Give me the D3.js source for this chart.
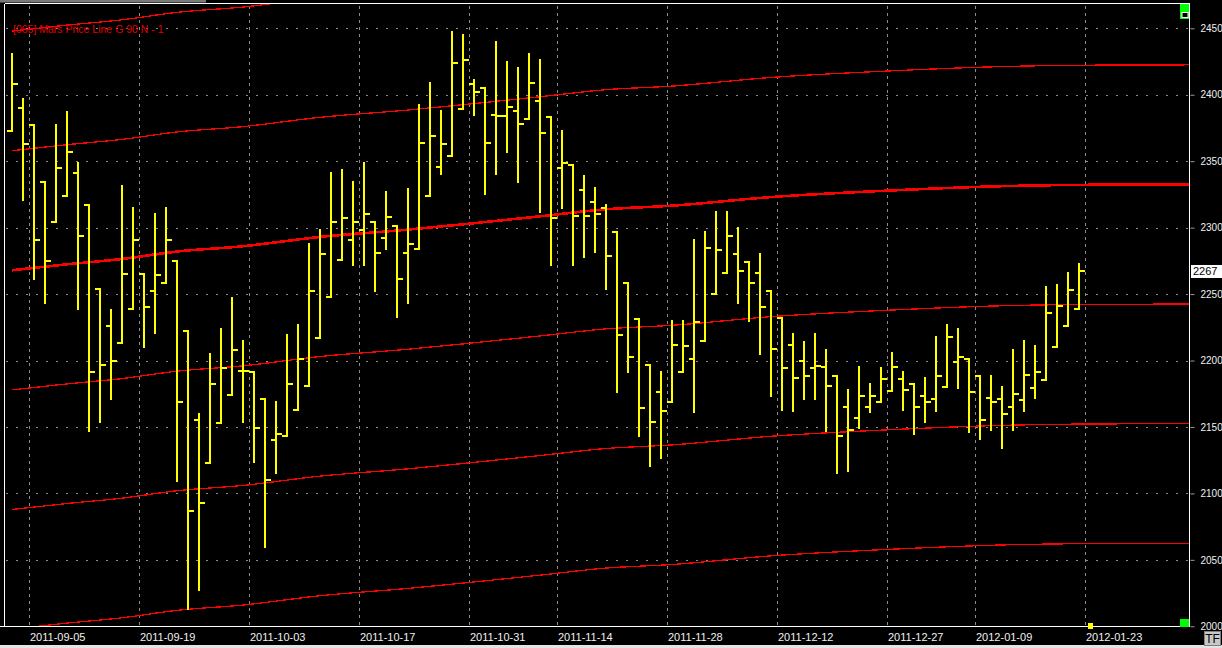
<!DOCTYPE html>
<html>
<head>
<meta charset="utf-8">
<script src="https://cdn.jsdelivr.net/npm/d3@7"></script>
<style>
  html, body { margin: 0; padding: 0; background: #000; }
  svg { display: block; }
</style>
</head>
<body>
<svg id="chart" width="1222" height="648"></svg>
<script>
// ---------------- DATA ----------------
// bar index 0..97 (trading days), tick labels at given bar indices
const tickIndex = [2, 12, 22, 32, 42, 50, 60, 70, 80, 88, 98];
const tickLabels = ["2011-09-05","2011-09-19","2011-10-03","2011-10-17","2011-10-31",
  "2011-11-14","2011-11-28","2011-12-12","2011-12-27","2012-01-09","2012-01-23"];
const priceTicks = [2000, 2050, 2100, 2150, 2200, 2250, 2300, 2350, 2400, 2450];

const openV = [2373,2390,2377,2334,2304,2324,2341,2317,2254,2226,2213,2239,2265,2252,2258,2275,2222,2155,2123,2153,
  2174,2192,2191,2171,2140,2143,2163,2181,2217,2248,2276,2291,2298,2304,2292,2301,2281,2284,2324,2346,
  2354,2389,2408,2405,2385,2384,2388,2382,2395,2383,2345,2347,2328,2319,2315,2297,2258,2231,2197,2176,
  2169,2191,2201,2215,2250,2266,2280,2274,2266,2252,2232,2212,2200,2194,2195,2188,2165,2157,2165,2169,
  2177,2186,2182,2173,2171,2180,2199,2201,2188,2172,2171,2165,2170,2179,2185,2210,2226,2239];
const highV = [2431,2397,2377,2334,2377,2387,2349,2317,2254,2238,2331,2315,2265,2310,2315,2275,2222,2160,2205,2224,
  2247,2215,2191,2171,2169,2219,2227,2288,2298,2341,2343,2334,2349,2304,2327,2301,2329,2392,2409,2388,
  2447,2445,2411,2405,2440,2425,2420,2431,2426,2383,2373,2347,2339,2330,2317,2297,2258,2231,2197,2191,
  2230,2230,2291,2297,2312,2312,2300,2274,2280,2252,2232,2220,2214,2220,2208,2188,2178,2195,2182,2194,
  2206,2191,2182,2187,2218,2227,2224,2201,2188,2188,2180,2208,2215,2211,2255,2257,2266,2273];
const lowV = [2373,2321,2261,2243,2304,2324,2239,2147,2154,2171,2213,2239,2210,2221,2258,2109,2013,2027,2123,2153,
  2174,2154,2124,2060,2115,2143,2163,2181,2217,2248,2276,2272,2272,2252,2284,2233,2243,2284,2324,2340,
  2354,2389,2385,2325,2340,2357,2334,2382,2312,2272,2315,2272,2278,2282,2254,2176,2191,2143,2121,2127,
  2169,2191,2161,2215,2250,2266,2243,2230,2205,2173,2163,2162,2171,2171,2147,2115,2117,2149,2161,2169,
  2177,2163,2145,2154,2162,2180,2179,2146,2141,2148,2134,2148,2162,2172,2185,2210,2226,2239];
const closeV = [2408,2363,2291,2275,2345,2357,2294,2191,2197,2200,2265,2291,2240,2264,2291,2169,2087,2093,2182,2194,
  2208,2192,2149,2110,2145,2182,2201,2252,2280,2304,2307,2304,2310,2281,2308,2261,2288,2364,2369,2363,
  2424,2426,2402,2364,2384,2391,2378,2409,2371,2307,2349,2309,2309,2310,2279,2219,2203,2164,2154,2162,
  2212,2211,2229,2285,2283,2294,2267,2258,2240,2209,2194,2187,2188,2196,2181,2143,2148,2173,2173,2186,
  2195,2178,2165,2169,2188,2218,2203,2176,2155,2169,2160,2175,2189,2191,2236,2241,2253,2267];

// Mars price lines (read at these bar indices)
const marsIdx = [0, 5, 10, 15, 21, 28, 36, 41, 48, 54, 60, 69, 80, 90, 99, 107];
const marsLineA = [2447.9,2452.4,2456.4,2462.0,2466.0,2473.0,2478.5,2482.5,2488.5,2493.8,2496.5,2503.0,2508.0,2511.2,2512.3,2512.5];
const marsLineB = [2357.9,2362.4,2366.4,2372.0,2376.0,2383.0,2388.5,2392.5,2398.5,2403.8,2406.5,2413.0,2418.0,2421.2,2422.3,2422.5];
const marsLineC = [2267.9,2272.4,2276.4,2282.0,2286.0,2293.0,2298.5,2302.5,2308.5,2313.8,2316.5,2323.0,2328.0,2331.2,2332.3,2332.5];
const marsLineD = [2177.9,2182.4,2186.4,2192.0,2196.0,2203.0,2208.5,2212.5,2218.5,2223.8,2226.5,2233.0,2238.0,2241.2,2242.3,2242.5];
const marsLineE = [2087.9,2092.4,2096.4,2102.0,2106.0,2113.0,2118.5,2122.5,2128.5,2133.8,2136.5,2143.0,2148.0,2151.2,2152.3,2152.5];
const marsLineF = [1997.9,2002.4,2006.4,2012.0,2016.0,2023.0,2028.5,2032.5,2038.5,2043.8,2046.5,2053.0,2058.0,2061.2,2062.3,2062.5];

const titleText = "[065] Mars Price Line G 90 N - 1";
const lastPriceText = "2267";

// ---------------- DRAW ----------------
const svg = d3.select("#chart");
const L = 4.5, R = 1189.5, T = 3.5, B = 626.5;
const nSlots = 108;

const x = d3.scaleBand().domain(d3.range(nSlots)).range([6.5, 6.5 + nSlots * 11]).padding(0);
const bw = x.bandwidth();
const cx = i => x(i) + bw / 2;
const y = d3.scaleLinear().domain([2000, 2450]).range([626.3, 28.3]);

svg.append("rect").attr("width", 1222).attr("height", 648).attr("fill", "#000");

svg.append("defs").append("clipPath").attr("id", "plotclip")
  .append("rect").attr("x", L).attr("y", T).attr("width", R - L).attr("height", B - T);

// grid
const grid = svg.append("g");
grid.selectAll("line.h").data(priceTicks).join("line")
  .attr("x1", L + 1).attr("x2", R - 1)
  .attr("y1", d => Math.round(y(d)) + 0.5).attr("y2", d => Math.round(y(d)) + 0.5)
  .attr("stroke", "#8a8a8a").attr("stroke-width", 1).attr("stroke-dasharray", "2,8")
  .attr("shape-rendering", "crispEdges");
grid.selectAll("line.v").data(tickIndex).join("line")
  .attr("x1", d => Math.round(x(d)) + 0.5).attr("x2", d => Math.round(x(d)) + 0.5)
  .attr("y1", T + 2).attr("y2", B)
  .attr("stroke", "#8a8a8a").attr("stroke-width", 1).attr("stroke-dasharray", "3,4")
  .attr("shape-rendering", "crispEdges");

// mars lines
const marsSeries = [
  {v: marsLineA, w: 1.3}, {v: marsLineB, w: 1.3}, {v: marsLineC, w: 2.6},
  {v: marsLineD, w: 1.3}, {v: marsLineE, w: 1.3}, {v: marsLineF, w: 1.3}
];
const lineGen = d3.line().x(d => d[0]).y(d => d[1]).curve(d3.curveMonotoneX);
const mg = svg.append("g").attr("clip-path", "url(#plotclip)");
marsSeries.forEach(s => {
  const pts = marsIdx.map((k, j) => [k === nSlots - 1 ? R : cx(k), y(s.v[j])]);
  mg.append("path").attr("d", lineGen(pts)).attr("fill", "none")
    .attr("stroke", "#ff0000").attr("stroke-width", s.w).attr("shape-rendering", "crispEdges");
});

// title
svg.append("text").attr("x", 13).attr("y", 33).text(titleText)
  .attr("fill", "#e00000").attr("font-family", "Liberation Sans, Arial, sans-serif")
  .attr("font-size", "10.5px");

// OHLC bars
const bars = openV.map((o, i) => ({i, o, h: highV[i], l: lowV[i], c: closeV[i]}));
const bg = svg.append("g").attr("fill", "#ffff00").attr("shape-rendering", "crispEdges");
bars.forEach(d => {
  const c = Math.round(cx(d.i));
  const yh = y(d.h), yl = y(d.l);
  bg.append("rect").attr("x", c - 1).attr("y", yh - 1).attr("width", 2).attr("height", Math.max(2, yl - yh + 2));
  bg.append("rect").attr("x", c - 5).attr("y", y(d.o) - 1).attr("width", 4).attr("height", 2);
  bg.append("rect").attr("x", c + 1).attr("y", y(d.c) - 1).attr("width", 5).attr("height", 2);
});

// frame
const frame = svg.append("g").attr("stroke", "#ffffff").attr("stroke-width", 1.5).attr("shape-rendering", "crispEdges");
frame.append("line").attr("x1", L).attr("x2", R).attr("y1", T).attr("y2", T);
frame.append("line").attr("x1", L).attr("x2", L).attr("y1", T).attr("y2", B);
frame.append("line").attr("x1", R).attr("x2", R).attr("y1", T).attr("y2", B);
frame.append("line").attr("x1", 0).attr("x2", R).attr("y1", B).attr("y2", B);
// scroll thumb at top
svg.append("rect").attr("x", 0).attr("y", 0).attr("width", 206).attr("height", 2.5).attr("fill", "#7a7a7a");

// right axis
const yAxis = d3.axisRight(y).tickValues(priceTicks).tickSize(4).tickPadding(6).tickFormat(d3.format("d"));
const ya = svg.append("g").attr("transform", `translate(${R + 1},0)`).call(yAxis);
ya.select(".domain").remove();
ya.selectAll(".tick line").attr("stroke", "#9a9a9a");
ya.selectAll(".tick text").attr("fill", "#f0f0f0")
  .attr("font-family", "Liberation Sans, Arial, sans-serif").attr("font-size", "10px");

// bottom axis labels
const xAxis = d3.axisBottom(x).tickValues(tickIndex).tickSize(0).tickPadding(0)
  .tickFormat((d) => tickLabels[tickIndex.indexOf(d)]);
const xa = svg.append("g").attr("transform", `translate(0,${B})`).call(xAxis);
xa.select(".domain").remove();
xa.selectAll(".tick").attr("transform", d => `translate(${x(d) + 1.5},0)`);
xa.selectAll(".tick text").attr("fill", "#f0f0f0").attr("text-anchor", "start")
  .attr("y", 14.5).attr("dy", null)
  .attr("font-family", "Liberation Sans, Arial, sans-serif").attr("font-size", "11px");

// last price label
const lastY = y(closeV[closeV.length - 1]);
svg.append("rect").attr("x", 1191).attr("y", lastY - 6.5).attr("width", 31).attr("height", 13).attr("fill", "#ffffff");
svg.append("text").attr("x", 1193).attr("y", lastY + 4).text(lastPriceText)
  .attr("fill", "#000").attr("font-family", "Liberation Sans, Arial, sans-serif").attr("font-size", "11px");

// green markers
svg.append("rect").attr("x", 1180).attr("y", 4).attr("width", 9).attr("height", 15).attr("fill", "#00ff00");
svg.append("rect").attr("x", 1182).attr("y", 12.5).attr("width", 6).attr("height", 5)
  .attr("fill", "#000").attr("stroke", "#fff").attr("stroke-width", 1);
svg.append("rect").attr("x", 1180).attr("y", 619).attr("width", 9).attr("height", 8).attr("fill", "#00ff00");

// next-bar marker
svg.append("rect").attr("x", Math.round(cx(98)) - 2).attr("y", 623).attr("width", 5).attr("height", 6).attr("fill", "#ffff00");

// TF button and bottom strip
svg.append("rect").attr("x", 0).attr("y", 645).attr("width", 1222).attr("height", 3).attr("fill", "#e4e4e4");
svg.append("rect").attr("x", 1204.5).attr("y", 631.5).attr("width", 16).attr("height", 14)
  .attr("fill", "#c8c8c8").attr("stroke", "#808080");
svg.append("text").attr("x", 1212.5).attr("y", 643).attr("text-anchor", "middle").text("TF")
  .attr("fill", "#000").attr("font-family", "Liberation Sans, Arial, sans-serif").attr("font-size", "12px");
</script>
</body>
</html>
